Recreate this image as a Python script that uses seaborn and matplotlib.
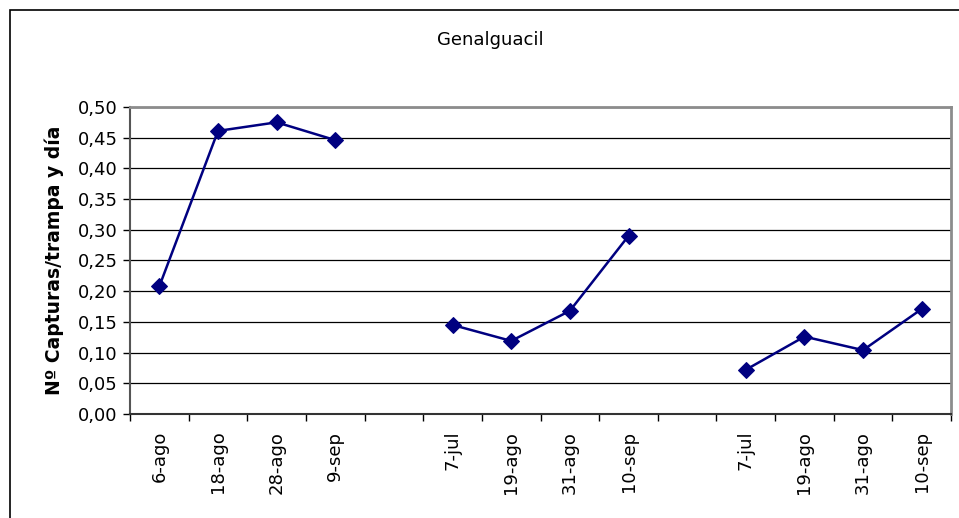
import numpy as np
import pandas as pd
import matplotlib
matplotlib.use("Agg")
import matplotlib.pyplot as plt
from matplotlib.patches import Rectangle
from matplotlib.ticker import FixedLocator, FuncFormatter
import seaborn as sns

# categorias del eje x (huecos entre grupos)
categorias = ['6-ago', '18-ago', '28-ago', '9-sep', '',
              '7-jul', '19-ago', '31-ago', '10-sep', '',
              '7-jul', '19-ago', '31-ago', '10-sep']
grupo1 = [0.208, 0.461, 0.475, 0.446]
grupo2 = [0.145, 0.119, 0.168, 0.290]
grupo3 = [0.072, 0.126, 0.104, 0.171]
y_ticks = [0.0, 0.05, 0.10, 0.15, 0.20, 0.25, 0.30, 0.35, 0.40, 0.45, 0.50]

sns.set_style("white")
plt.rcParams['font.family'] = ['DejaVu Sans']
plt.rcParams.update({'text.color': 'black', 'axes.labelcolor': 'black',
                     'xtick.color': 'black', 'ytick.color': 'black'})

rows = []
for g, (start, vals) in enumerate([(0, grupo1), (5, grupo2), (10, grupo3)]):
    for i, v in enumerate(vals):
        rows.append({"pos": start + i, "valor": v, "grupo": g})
df = pd.DataFrame(rows)

fig = plt.figure(figsize=(9.59, 5.18), dpi=100)
ax = fig.add_axes([0.1356, 0.2008, 0.8561, 0.5927])

ax.yaxis.grid(True, color='black', linewidth=0.9)
ax.set_axisbelow(True)

sns.lineplot(data=df, x="pos", y="valor", units="grupo", estimator=None,
             color='#000080', linewidth=1.8, marker='D', markersize=8.5,
             markeredgecolor='#000080', ax=ax, legend=False)

ax.set_xlim(-0.5, len(categorias) - 0.5)
ax.set_ylim(0, 0.5)
ax.set_yticks(y_ticks)
ax.yaxis.set_major_formatter(FuncFormatter(lambda v, p: f"{v:.2f}".replace('.', ',')))

# ticks en los limites de categoria, etiquetas en el centro
ax.xaxis.set_major_locator(FixedLocator(np.arange(-0.5, len(categorias), 1.0)))
ax.xaxis.set_major_formatter(FuncFormatter(lambda v, p: ''))
ax.xaxis.set_minor_locator(FixedLocator(np.arange(len(categorias))))
ax.set_xticklabels(categorias, minor=True, rotation=90)
ax.tick_params(axis='x', which='minor', length=0, pad=12, labelsize=13)
ax.tick_params(axis='x', which='major', direction='out', length=5, width=1, color='black', bottom=True)
ax.tick_params(axis='y', direction='out', length=5, width=1, color='black', left=True,
               labelsize=13, pad=4)

ax.set_xlabel('')
ax.set_ylabel('Nº Capturas/trampa y día', fontsize=13.5, fontweight='bold', labelpad=10)

for s in ['top', 'right']:
    ax.spines[s].set_color('#8c8c8c')
    ax.spines[s].set_linewidth(2)
ax.spines['left'].set_color('#555555')
ax.spines['left'].set_linewidth(1.5)
ax.spines['bottom'].set_color('#333333')
ax.spines['bottom'].set_linewidth(1.5)

fig.text(0.511, 0.923, 'Genalguacil', ha='center', va='center', fontsize=13)

# marco exterior del grafico
fig.add_artist(Rectangle((10 / 959, -0.1), 1.2, 1.1 - 10 / 518, transform=fig.transFigure,
                         fill=False, edgecolor='black', linewidth=1.2))

fig.savefig("out.png", dpi=100)
